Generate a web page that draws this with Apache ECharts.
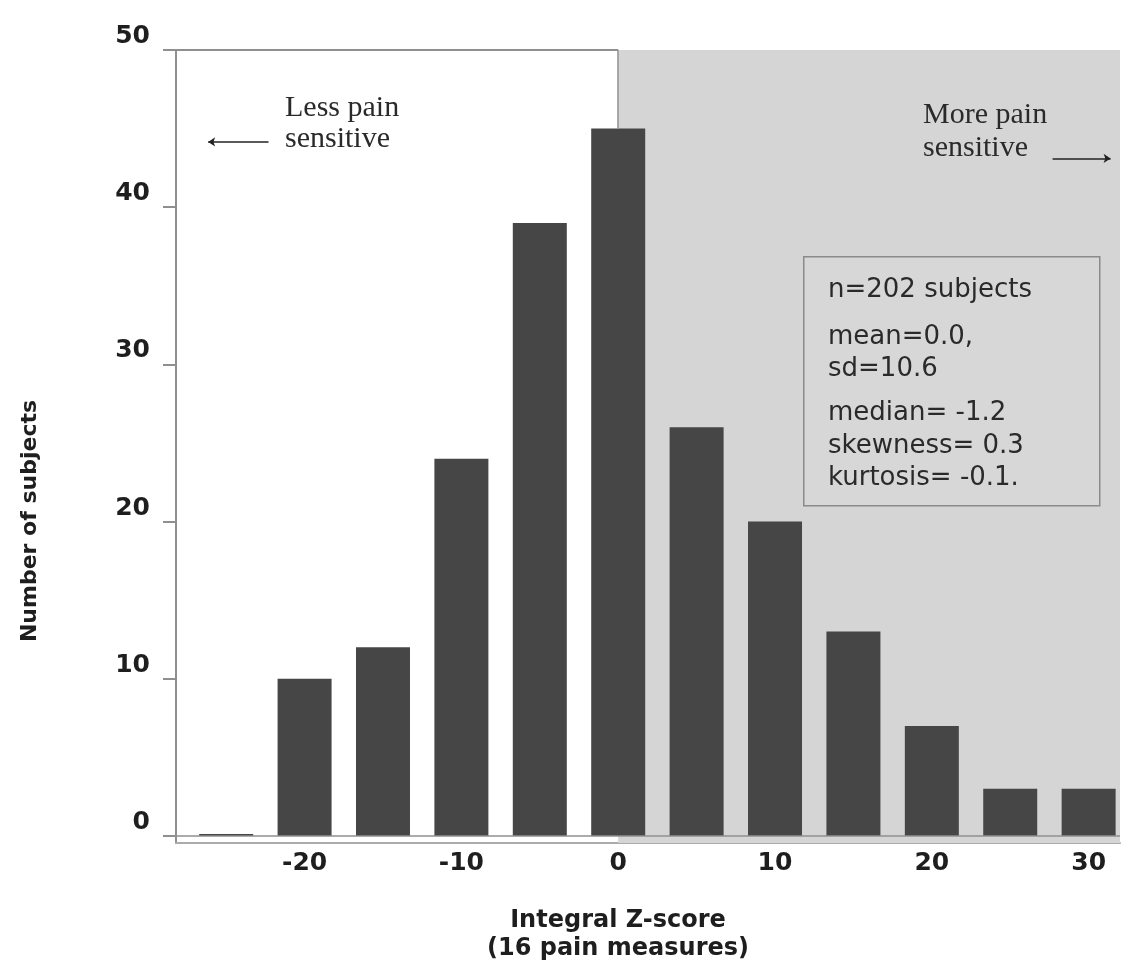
<!DOCTYPE html>
<html>
<head>
<meta charset="utf-8">
<title>Integral Z-score histogram</title>
<script src="https://cdn.jsdelivr.net/npm/echarts/dist/echarts.min.js"></script>
<style>
  html, body { margin: 0; padding: 0; background: #fff; }
  #main { width: 1122px; height: 965px; }
</style>
</head>
<body>
<div id="main"></div>
<script>
  // bin centres of the histogram and counts per bin
  const binCentres = [-25, -20, -15, -10, -5, 0, 5, 10, 15, 20, 25, 30];
  const counts = [0, 10, 12, 24, 39, 45, 26, 20, 13, 7, 3, 3];
  const xTicks = [-20, -10, 0, 10, 20, 30];
  const yTicks = [0, 10, 20, 30, 40, 50];
  const statsLines = ['n=202 subjects', 'mean=0.0,', 'sd=10.6', 'median= -1.2', 'skewness= 0.3', 'kurtosis= -0.1.'];

  const X_MIN = -28.2, X_MAX = 32, Y_MIN = -0.45, Y_MAX = 50;
  const frame = '#8f8f8f';

  const chart = echarts.init(document.getElementById('main'));

  const barData = binCentres.map((x, i) => [x, counts[i]]);

  const statsY = [290, 337, 369, 413, 446, 478];
  const statsText = statsLines.map((t, i) => ({
    type: 'text', x: 828, y: statsY[i], z: 30,
    style: { text: t, font: '26px "DejaVu Sans"', fill: '#2a2a2a', verticalAlign: 'middle' }
  }));

  const serif = '30px "Liberation Serif"';

  const option = {
    animation: false,
    backgroundColor: '#fff',
    grid: { left: 176, right: 2, top: 50, bottom: 122 },
    xAxis: {
      type: 'value', min: X_MIN, max: X_MAX,
      axisLine: { show: true, onZero: false, lineStyle: { color: '#ababab', width: 2 } },
      axisTick: { show: false },
      splitLine: { show: false },
      axisLabel: {
        customValues: xTicks, margin: 8,
        fontFamily: 'DejaVu Sans', fontWeight: 'bold', fontSize: 25, color: '#1e1e1e'
      }
    },
    yAxis: {
      type: 'value', min: Y_MIN, max: Y_MAX,
      axisLine: { show: true, onZero: false, lineStyle: { color: frame, width: 2 } },
      axisTick: { show: true, customValues: yTicks, length: 13, lineStyle: { color: frame, width: 2 } },
      splitLine: { show: false },
      axisLabel: {
        customValues: yTicks, margin: 26, verticalAlign: 'bottom', padding: [0, 0, 1, 0],
        fontFamily: 'DejaVu Sans', fontWeight: 'bold', fontSize: 25, color: '#1e1e1e'
      }
    },
    series: [
      {
        type: 'bar',
        data: barData,
        barWidth: 54,
        barMinHeight: 2,
        itemStyle: { color: '#464646' },
        markArea: {
          silent: true,
          itemStyle: { color: '#d5d5d5' },
          data: [[{ coord: [0, Y_MIN] }, { coord: [X_MAX, Y_MAX] }]]
        },
        markLine: {
          silent: true,
          symbol: ['none', 'none'],
          label: { show: false },
          lineStyle: { type: 'solid', color: frame, width: 1.5 },
          data: [
            // zero baseline
            [{ coord: [X_MIN, 0] }, { coord: [X_MAX, 0] }],
            // top border of the white half
            [{ coord: [X_MIN, Y_MAX] }, { coord: [0, Y_MAX], lineStyle: { width: 2 } }],
            // divider at zero, above the tallest bar
            [{ coord: [0, 45] }, { coord: [0, Y_MAX] }],
            // direction arrows
            [{ coord: [-22.3, 44.15], symbol: 'none' },
             { coord: [-26.15, 44.15], symbol: 'arrow', symbolSize: [7, 7], lineStyle: { color: '#222', width: 1.5 } }],
            [{ coord: [27.7, 43.1], symbol: 'none' },
             { coord: [31.4, 43.1], symbol: 'arrow', symbolSize: [7, 7], lineStyle: { color: '#222', width: 1.5 } }]
          ]
        }
      }
    ],
    graphic: [
      {
        type: 'rect', left: 803, top: 256, z: 20,
        shape: { width: 296, height: 249 },
        style: { fill: '#d7d7d7', stroke: '#8a8a8a', lineWidth: 1.5 }
      },
      { type: 'group', z: 30, children: statsText },
      { type: 'text', x: 285, y: 108, z: 30, style: { text: 'Less pain', font: serif, fill: '#2a2a2a', verticalAlign: 'middle' } },
      { type: 'text', x: 285, y: 139, z: 30, style: { text: 'sensitive', font: serif, fill: '#2a2a2a', verticalAlign: 'middle' } },
      { type: 'text', x: 923, y: 115, z: 30, style: { text: 'More pain', font: serif, fill: '#2a2a2a', verticalAlign: 'middle' } },
      { type: 'text', x: 923, y: 148, z: 30, style: { text: 'sensitive', font: serif, fill: '#2a2a2a', verticalAlign: 'middle' } },
      {
        type: 'text', x: 30, y: 521, rotation: Math.PI / 2, z: 30,
        style: { text: 'Number of subjects', font: 'bold 22px "DejaVu Sans"', fill: '#1e1e1e', align: 'center', verticalAlign: 'middle' }
      },
      {
        type: 'text', x: 618, y: 921, z: 30,
        style: { text: 'Integral Z-score', font: 'bold 24px "DejaVu Sans"', fill: '#1e1e1e', align: 'center', verticalAlign: 'middle' }
      },
      {
        type: 'text', x: 618, y: 949, z: 30,
        style: { text: '(16 pain measures)', font: 'bold 24px "DejaVu Sans"', fill: '#1e1e1e', align: 'center', verticalAlign: 'middle' }
      }
    ]
  };

  chart.setOption(option);
</script>
</body>
</html>
